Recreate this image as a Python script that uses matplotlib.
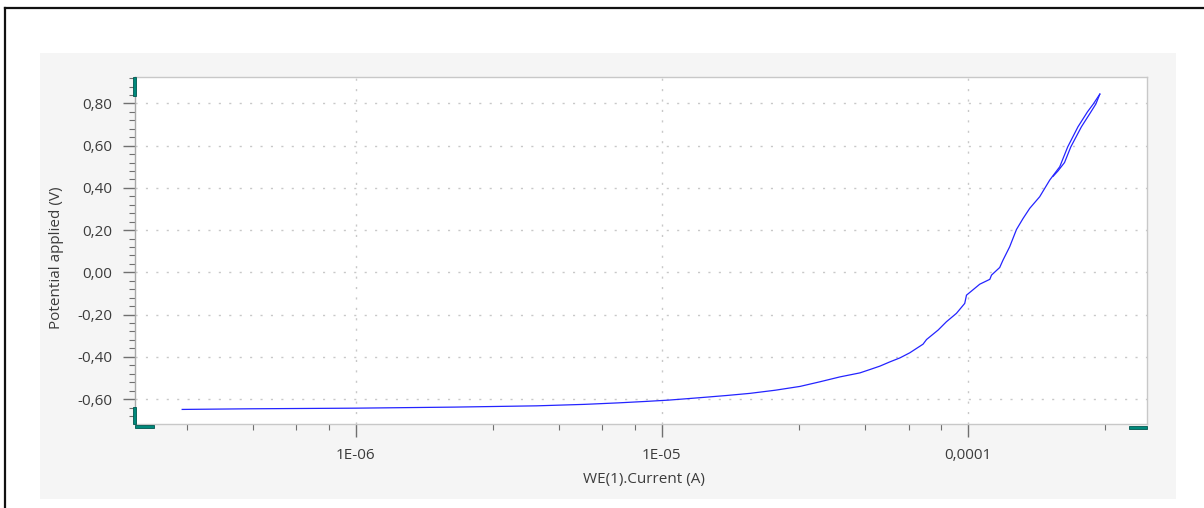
import matplotlib
matplotlib.use("Agg")
import matplotlib.pyplot as plt
from matplotlib.patches import Rectangle
from matplotlib.lines import Line2D
from matplotlib.ticker import FixedLocator, FixedFormatter, MultipleLocator, FuncFormatter

# ---- data: polarisation scan, current (A) vs applied potential (V) ----
forward_current = [2.71e-7, 4.5e-7, 1.0e-6, 2.1e-6, 3.9e-6, 5.6e-6, 7.2e-6, 8.9e-6,
                   1.05e-5, 1.19e-5, 1.37e-5, 1.63e-5, 1.94e-5, 2.35e-5, 2.83e-5,
                   3.29e-5, 3.82e-5, 4.44e-5, 4.79e-5, 5.16e-5, 5.56e-5, 6.00e-5,
                   6.46e-5, 7.14e-5, 7.33e-5, 8.00e-5, 8.51e-5, 9.18e-5, 9.77e-5,
                   9.90e-5, 1.094e-4, 1.180e-4, 1.195e-4, 1.271e-4, 1.303e-4,
                   1.370e-4, 1.442e-4, 1.515e-4, 1.593e-4, 1.717e-4, 1.852e-4,
                   1.997e-4, 2.12e-4, 2.29e-4, 2.46e-4, 2.57e-4, 2.70e-4]
forward_potential = [-0.649, -0.646, -0.643, -0.638, -0.632, -0.625, -0.618, -0.611,
                     -0.605, -0.599, -0.592, -0.583, -0.573, -0.558, -0.540,
                     -0.518, -0.495, -0.476, -0.460, -0.444, -0.424, -0.405,
                     -0.381, -0.340, -0.318, -0.273, -0.234, -0.194, -0.147,
                     -0.108, -0.056, -0.033, -0.013, 0.023, 0.058,
                     0.121, 0.203, 0.255, 0.303, 0.358, 0.437,
                     0.500, 0.594, 0.689, 0.760, 0.797, 0.844]

reverse_current = [2.70e-4, 2.62e-4, 2.50e-4, 2.35e-4, 2.17e-4, 2.07e-4, 1.97e-4, 1.90e-4]
reverse_potential = [0.844, 0.797, 0.750, 0.689, 0.594, 0.520, 0.480, 0.455]

x_major = [1e-6, 1e-5, 1e-4]
x_major_labels = ["1E-06", "1E-05", "0,0001"]
x_minor_steps = [2.8, 4.6, 6.4, 8.2]
x_limits = (1.90e-7, 3.85e-4)
y_limits = (-0.718, 0.925)
x_label = "WE(1).Current (A)"
y_label = "Potential applied (V)"

W, H = 1204, 508
plt.rcParams["font.family"] = ["Open Sans", "DejaVu Sans"]
plt.rcParams["lines.scale_dashes"] = False

fig = plt.figure(figsize=(W / 100, H / 100), dpi=100, facecolor="white")


def fx(px):
    return px / W


def fy(py):
    return 1 - py / H


# window frame and grey panel
fig.add_artist(Rectangle((fx(40), fy(498.7)), fx(1176) - fx(40), fy(53) - fy(498.7),
                         transform=fig.transFigure, facecolor="#f5f5f5",
                         edgecolor="none", zorder=-2))
fig.add_artist(Line2D([fx(5), fx(5)], [fy(8), 0], transform=fig.transFigure,
                      color="#111111", lw=1.6, zorder=10))
fig.add_artist(Line2D([fx(5), 1], [fy(8), fy(8)], transform=fig.transFigure,
                      color="#111111", lw=1.6, zorder=10))

left, right, top, bottom = 135, 1147, 77, 424
ax = fig.add_axes([fx(left), fy(bottom), fx(right) - fx(left), fy(top) - fy(bottom)])
ax.set_facecolor("white")

ax.plot(forward_current, forward_potential, color="#2424ff", lw=0.9, zorder=3)
ax.plot(reverse_current, reverse_potential, color="#2424ff", lw=0.9, zorder=3)

ax.set_xscale("log")
ax.set_xlim(*x_limits)
ax.set_ylim(*y_limits)

minor_x = [d * s for d in (1e-7, 1e-6, 1e-5, 1e-4) for s in x_minor_steps]
ax.xaxis.set_major_locator(FixedLocator(x_major))
ax.xaxis.set_major_formatter(FixedFormatter(x_major_labels))
ax.xaxis.set_minor_locator(FixedLocator(minor_x))
ax.xaxis.set_minor_formatter(FuncFormatter(lambda v, p: ""))

ax.yaxis.set_major_locator(MultipleLocator(0.2))
ax.yaxis.set_minor_locator(MultipleLocator(0.04))
ax.yaxis.set_major_formatter(FuncFormatter(lambda v, p: f"{v:.2f}".replace(".", ",")))

text_color = "#3c3c3c"
tick_color = "#707070"
font_size = 11
ax.tick_params(axis="both", which="major", direction="out", color=tick_color,
               labelcolor=text_color, labelsize=font_size, width=1.0)
ax.tick_params(axis="y", which="major", length=9.0, pad=7.5)
ax.tick_params(axis="x", which="major", length=9.2, pad=8)
ax.tick_params(axis="both", which="minor", direction="out", color=tick_color,
               length=4.3, width=0.8)

for side in ("top", "right", "bottom", "left"):
    ax.spines[side].set_color("#c8c8c8")
    ax.spines[side].set_linewidth(1.0)
ax.spines["left"].set_color("#a8a8a8")

ax.grid(True, which="major", color="#c8c8c8", lw=1.0, linestyle=(0, (1.5, 6.0)))
ax.set_axisbelow(True)

fig.text(fx(57), fy(258), y_label, rotation=90, ha="center", va="center",
         fontsize=font_size, color=text_color)
fig.text(fx(644), fy(480), x_label, ha="center", va="center",
         fontsize=font_size, color=text_color)

# axis range handles
teal = "#00897b"
edge = "#00574f"
for (x0, y0, x1, y1) in [(132.5, 77, 135.5, 96), (133, 407, 136, 424),
                         (135, 424.5, 154, 427.5), (1129, 425.5, 1147, 428.5)]:
    fig.add_artist(Rectangle((fx(x0), fy(y1)), fx(x1) - fx(x0), fy(y0) - fy(y1),
                             transform=fig.transFigure, facecolor=teal,
                             edgecolor=edge, lw=0.6, zorder=8))

fig.savefig("out.png", dpi=100, facecolor="white")
